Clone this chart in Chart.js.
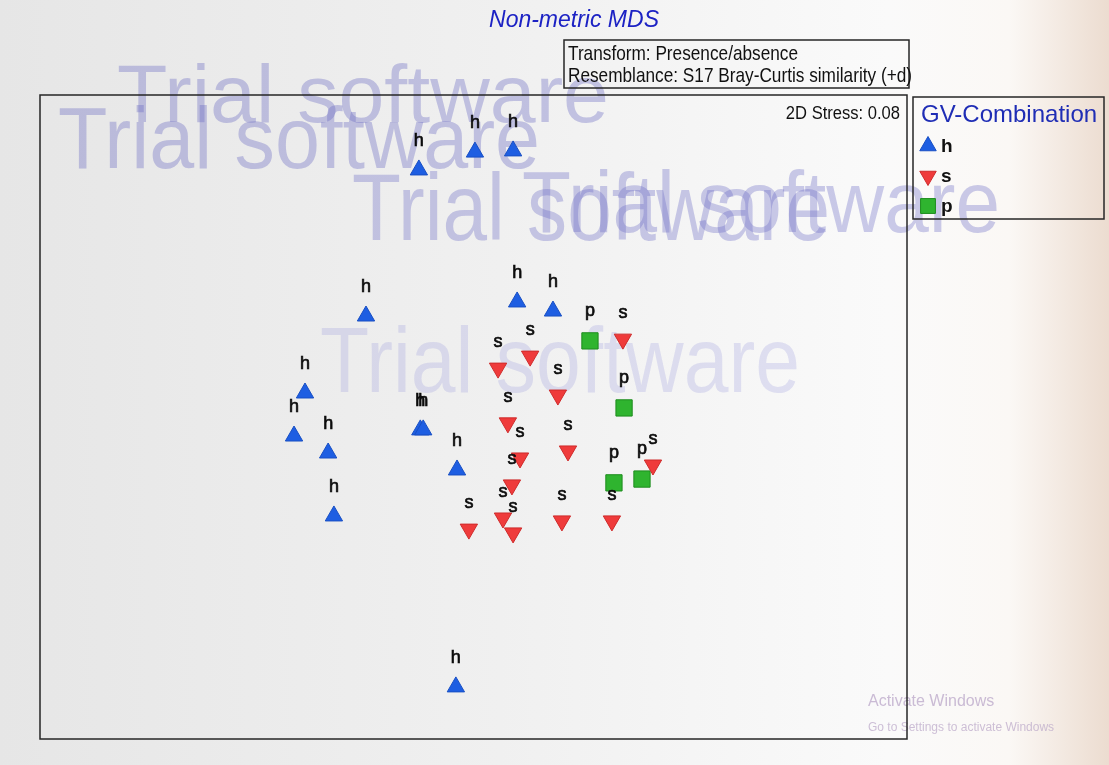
<!DOCTYPE html>
<html>
<head>
<meta charset="utf-8">
<title>Non-metric MDS</title>
<script src="https://cdn.jsdelivr.net/npm/chart.js@4.4.0/dist/chart.umd.min.js"></script>
<style>
  html, body { margin: 0; padding: 0; background: #eeeeee; }
  canvas { display: block; }
</style>
</head>
<body>
<canvas id="mds" width="1109" height="765"></canvas>
<script>
// nMDS coordinates per GV combination
const hX = [-0.189, 0.005, 0.137, -0.372, -0.583, -0.621, -0.503, -0.483, -0.184, -0.174, -0.057, 0.151, 0.275, -0.061];
const hY = [0.844, 0.905, 0.909, 0.345, 0.082, -0.065, -0.123, -0.338, -0.044, -0.044, -0.181, 0.393, 0.362, -0.922];

const sX = [0.085, 0.196, 0.292, 0.517, 0.119, 0.161, 0.133, 0.102, 0.137, -0.016, 0.327, 0.306, 0.479, 0.621];
const sY = [0.167, 0.208, 0.075, 0.266, -0.020, -0.140, -0.232, -0.345, -0.396, -0.383, -0.116, -0.355, -0.355, -0.164];

const pX = [0.403, 0.521, 0.486, 0.583];
const pY = [0.260, 0.031, -0.225, -0.212];

const groups = ["h", "s", "p"];
const stress = 0.08;
const transformText = "Transform: Presence/absence";
const resemblanceText = "Resemblance: S17 Bray-Curtis similarity (+d)";
const legendTitle = "GV-Combination";

const FONT = '"Liberation Sans", Arial, sans-serif';

// demo-version stamps: [left, baseline, cap height, width, colour]
const stamps = [
  [117, 122, 58, 492, "rgba(105, 105, 195, 0.36)"],
  [58, 168, 62, 482, "rgba(105, 105, 195, 0.36)"],
  [352, 240, 68, 478, "rgba(105, 105, 195, 0.34)"],
  [522, 232, 62, 478, "rgba(105, 105, 195, 0.34)"],
  [320, 392, 66, 480, "rgba(150, 150, 220, 0.26)"]
];

const toPoints = (xs, ys) => xs.map((x, i) => ({ x: x, y: ys[i] }));

// text squeezed horizontally by sx
function text(ctx, str, x, y, font, color, sx, align) {
  ctx.save();
  ctx.font = font;
  ctx.fillStyle = color;
  ctx.textAlign = align || "left";
  ctx.translate(x, y);
  ctx.scale(sx || 1, 1);
  ctx.fillText(str, 0, 0);
  ctx.restore();
}

const backdrop = {
  id: "backdrop",
  beforeDraw(chart) {
    const { ctx, width, height } = chart;
    ctx.save();
    const g = ctx.createLinearGradient(0, 0, width, 0);
    g.addColorStop(0, "#e6e6e6");
    g.addColorStop(0.45, "#f0f0f0");
    g.addColorStop(0.8, "#fafafa");
    g.addColorStop(0.91, "#fbf8f5");
    g.addColorStop(1, "#ecdcd0");
    ctx.fillStyle = g;
    ctx.fillRect(0, 0, width, height);
    ctx.restore();
  }
};

const frame = {
  id: "frame",
  beforeDatasetsDraw(chart) {
    const ctx = chart.ctx;
    const a = chart.chartArea;

    // watermark text
    stamps.forEach(([x, y, cap, w, col]) => {
      ctx.save();
      const size = cap / 0.716;
      ctx.font = size + "px " + FONT;
      const m = ctx.measureText("Trial software").width;
      text(ctx, "Trial software", x, y, size + "px " + FONT, col, w / m);
      ctx.restore();
    });
    text(ctx, "Activate Windows", 868, 706, "16px " + FONT, "rgba(185, 165, 200, 0.75)");
    text(ctx, "Go to Settings to activate Windows", 868, 731, "12px " + FONT, "rgba(185, 165, 200, 0.7)");

    ctx.save();
    ctx.strokeStyle = "#262626";
    ctx.lineWidth = 1.5;
    ctx.strokeRect(a.left, a.top, a.right - a.left, a.bottom - a.top);

    // title and settings box
    text(ctx, "Non-metric MDS", 574, 27, "italic 23px " + FONT, "#1c22c4", 1, "center");
    ctx.strokeRect(564, 40, 345, 48);
    text(ctx, transformText, 568, 60, "21px " + FONT, "#111", 0.82);
    text(ctx, resemblanceText, 568, 82, "21px " + FONT, "#111", 0.82);
    text(ctx, "2D Stress: " + stress.toFixed(2), a.right - 7, 119, "18px " + FONT, "#111", 0.92, "right");

    // legend
    ctx.strokeRect(913, 97, 191, 122);
    text(ctx, legendTitle, 921, 122, "24px " + FONT, "#1f2db5", 1);
    chart.data.datasets.forEach((ds, i) => {
      const y = 146 + i * 30;
      ctx.fillStyle = ds.backgroundColor;
      ctx.strokeStyle = ds.borderColor;
      ctx.lineWidth = 1;
      Chart.helpers.drawPoint(ctx, {
        pointStyle: ds.pointStyle,
        radius: ds.pointStyle === "rect" ? 10.5 : 9.5,
        rotation: ds.rotation || 0,
        borderWidth: 1
      }, 928, y);
      ctx.save();
      ctx.textBaseline = "middle";
      text(ctx, ds.label, 941, y + 1, "bold 19px " + FONT, "#111");
      ctx.restore();
    });
    ctx.restore();
  }
};

const pointLabels = {
  id: "pointLabels",
  afterDatasetsDraw(chart) {
    const ctx = chart.ctx;
    ctx.save();
    ctx.font = "18px " + FONT;
    ctx.fillStyle = "#0c0c0c";
    ctx.strokeStyle = "#0c0c0c";
    ctx.lineWidth = 0.7;
    ctx.textAlign = "center";
    chart.data.datasets.forEach((ds, i) => {
      chart.getDatasetMeta(i).data.forEach(pt => {
        ctx.fillText(ds.label, pt.x, pt.y - ds.labelOffset);
        ctx.strokeText(ds.label, pt.x, pt.y - ds.labelOffset);
      });
    });
    ctx.restore();
  }
};

new Chart(document.getElementById("mds"), {
  type: "scatter",
  data: {
    datasets: [
      {
        label: groups[0],
        data: toPoints(hX, hY),
        pointStyle: "triangle",
        pointRadius: 10,
        backgroundColor: "#1e5ee2",
        borderColor: "#184fc4",
        borderWidth: 1,
        labelOffset: 24
      },
      {
        label: groups[1],
        data: toPoints(sX, sY),
        pointStyle: "triangle",
        rotation: 180,
        pointRadius: 10,
        backgroundColor: "#ef3b3b",
        borderColor: "#cf2b2b",
        borderWidth: 1,
        labelOffset: 21
      },
      {
        label: groups[2],
        data: toPoints(pX, pY),
        pointStyle: "rect",
        pointRadius: 11.5,
        backgroundColor: "#2fb42f",
        borderColor: "#1d8c1d",
        borderWidth: 1,
        labelOffset: 25
      }
    ]
  },
  options: {
    responsive: false,
    animation: false,
    layout: { padding: { left: 40, top: 95, right: 202, bottom: 26 } },
    scales: {
      x: { type: "linear", min: -1.5, max: 1.5, display: false },
      y: { type: "linear", min: -1.1, max: 1.1, display: false }
    },
    plugins: {
      legend: { display: false },
      tooltip: { enabled: false }
    }
  },
  plugins: [backdrop, frame, pointLabels]
});
</script>
</body>
</html>
